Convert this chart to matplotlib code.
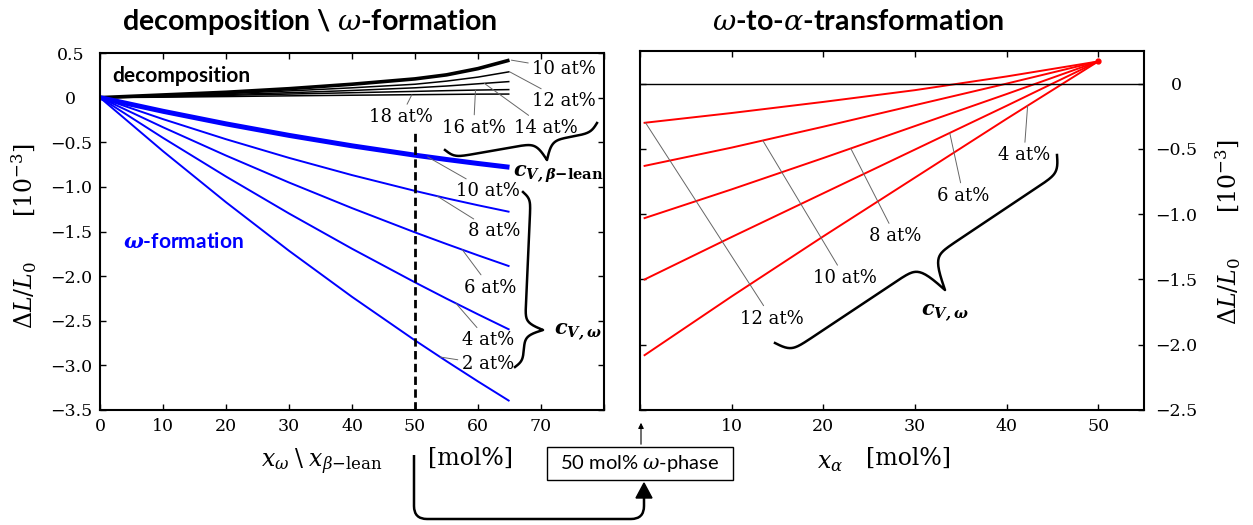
import numpy as np
import matplotlib
matplotlib.use('Agg')
import matplotlib.pyplot as plt
from matplotlib import font_manager
from matplotlib.lines import Line2D
from matplotlib.patches import Rectangle, FancyArrowPatch, PathPatch, Polygon
from matplotlib.path import Path

# decomposition (black) and omega formation (blue), x in mol%
x_left = [0, 10, 20, 30, 40, 50, 55, 60, 65]
dec_10 = [0, 0.03, 0.06, 0.10, 0.15, 0.21, 0.255, 0.325, 0.42]
dec_12 = [0, 0.02, 0.045, 0.075, 0.11, 0.15, 0.185, 0.23, 0.29]
dec_14 = [0, 0.015, 0.035, 0.055, 0.08, 0.11, 0.13, 0.155, 0.18]
dec_16 = [0, 0.01, 0.025, 0.04, 0.055, 0.07, 0.078, 0.085, 0.09]
dec_18 = [0, 0.005, 0.012, 0.02, 0.027, 0.033, 0.036, 0.039, 0.04]
lean_10 = [0, -0.153, -0.294, -0.423, -0.54, -0.645, -0.693, -0.738, -0.78]
om_8 = [0, -0.241, -0.466, -0.675, -0.868, -1.045, -1.128, -1.206, -1.28]
om_6 = [0, -0.332, -0.649, -0.951, -1.238, -1.51, -1.64, -1.767, -1.89]
om_4 = [0, -0.451, -0.884, -1.298, -1.693, -2.07, -2.252, -2.428, -2.60]
om_2 = [0, -0.60, -1.172, -1.716, -2.232, -2.72, -2.953, -3.18, -3.40]

# omega -> alpha transformation (red), x in mol%
x_right = [0.5, 10, 20, 30, 40, 50]
tr_12 = [-0.30, -0.225, -0.14, -0.05, 0.055, 0.17]
tr_10 = [-0.63, -0.49, -0.33, -0.165, 0.0, 0.17]
tr_8 = [-1.03, -0.81, -0.57, -0.325, -0.08, 0.17]
tr_6 = [-1.50, -1.175, -0.84, -0.505, -0.17, 0.17]
tr_4 = [-2.08, -1.63, -1.17, -0.72, -0.27, 0.17]
x_phase = 50

left_yticks = [0.5, 0, -0.5, -1.0, -1.5, -2.0, -2.5, -3.0, -3.5]
right_yticks = [0, -0.5, -1.0, -1.5, -2.0, -2.5]
left_xticks = [0, 10, 20, 30, 40, 50, 60, 70, 80]
right_xticks = [0, 10, 20, 30, 40, 50]

W, H = 1253, 525


def first_font(*names):
    for n in names:
        try:
            font_manager.findfont(font_manager.FontProperties(family=n), fallback_to_default=False)
            return n
        except ValueError:
            continue
    return 'DejaVu Sans'


narrow = first_font('Liberation Sans Narrow', 'Lato')
is_narrow = narrow == 'Liberation Sans Narrow'
plt.rcParams['font.family'] = 'DejaVu Serif'
plt.rcParams['mathtext.fontset'] = 'dejavuserif'


def fxy(px, py):
    return px / W, 1 - py / H


def tick_text(v):
    if v == 0:
        return '0'
    return ('%.1f' % v).replace('-', '\u2212')


fig = plt.figure(figsize=(W / 100, H / 100), dpi=100)
ax1 = fig.add_axes([100 / W, 1 - 410 / H, 504 / W, 357 / H])
ax2 = fig.add_axes([640 / W, 1 - 410 / H, 504 / W, 359 / H])

# ---- left panel
for ys, lw in [(dec_18, 1.1), (dec_16, 1.1), (dec_14, 1.1), (dec_12, 1.1), (dec_10, 2.6)]:
    ax1.plot(x_left, ys, color='black', lw=lw, solid_capstyle='butt')
for ys, lw in [(om_2, 1.4), (om_4, 1.4), (om_6, 1.4), (om_8, 1.4), (lean_10, 3.6)]:
    ax1.plot(x_left, ys, color='#0000ff', lw=lw, solid_capstyle='butt')
ax1.vlines(x_phase, -3.5, -0.40, colors='black', linestyles=(0, (3, 1.6)), lw=2)

ax1.set_xlim(0, 80)
ax1.set_ylim(-3.5, 0.5)
ax1.set_xticks(left_xticks, labels=[str(v) if v < 80 else '' for v in left_xticks])
ax1.set_yticks(left_yticks, labels=[tick_text(v) for v in left_yticks])
ax1.tick_params(direction='in', top=True, right=True, length=4, width=1, labelsize=12.5)
ax1.tick_params(axis='y', pad=21)
ax1.tick_params(axis='x', pad=6)
for lbl in ax1.get_yticklabels():
    lbl.set_horizontalalignment('center')

ax1.text(1.9, 0.245, 'decomposition', family='Lato', fontweight='bold', fontsize=15,
         ha='left', va='center', color='black')
ax1.text(3.6, -1.62, r'$\mathbfit{\omega}$-formation', family='Lato', fontweight='bold',
         fontsize=15, ha='left', va='center', color='#0000ff')

pointer_kw = dict(arrowstyle='-', color='0.4', lw=0.7, shrinkA=1, shrinkB=0)


def pointer(ax, text, xs, ys, x_at, xytext):
    y_at = np.interp(x_at, xs, ys)
    ax.annotate(text, xy=(x_at, y_at), xytext=xytext, ha='center', va='center',
                fontsize=13, arrowprops=pointer_kw)


pointer(ax1, '10 at%', x_left, dec_10, 65.3, (73.7, 0.32))
pointer(ax1, '12 at%', x_left, dec_12, 65.0, (73.7, -0.04))
pointer(ax1, '14 at%', x_left, dec_14, 61.0, (70.8, -0.34))
pointer(ax1, '16 at%', x_left, dec_16, 59.6, (59.3, -0.34))
pointer(ax1, '18 at%', x_left, dec_18, 49.5, (47.7, -0.22))
pointer(ax1, '10 at%', x_left, lean_10, 52.0, (61.6, -1.05))
pointer(ax1, '8 at%', x_left, om_8, 53.5, (62.5, -1.50))
pointer(ax1, '6 at%', x_left, om_6, 57.5, (62.0, -2.13))
pointer(ax1, '4 at%', x_left, om_4, 56.5, (61.6, -2.72))
pointer(ax1, '2 at%', x_left, om_2, 54.0, (61.6, -2.99))

ax1.text(65.5, -0.86, r'$\mathbfit{c}_{\mathbfit{V,\beta}\mathbf{-lean}}$', fontsize=15,
         ha='left', va='center')
ax1.text(72.0, -2.63, r'$\mathbfit{c}_{\mathbfit{V,\omega}}$', fontsize=15,
         ha='left', va='center')

# ---- right panel
for ys in [tr_12, tr_10, tr_8, tr_6, tr_4]:
    ax2.plot(x_right, ys, color='#ff0000', lw=1.4)
ax2.plot([x_right[-1]], [tr_4[-1]], 'o', color='#ff0000', ms=3.5)
ax2.axhline(0, color='black', lw=1)

ax2.set_xlim(0, 55)
ax2.set_ylim(-2.5, 0.25)
ax2.set_xticks(right_xticks, labels=[str(v) if v > 0 else '' for v in right_xticks])
ax2.set_yticks(right_yticks, labels=[tick_text(v) for v in right_yticks])
ax2.tick_params(direction='in', top=True, left=True, right=True, length=4, width=1,
                labelsize=12.5, labelleft=False, labelright=True)
ax2.tick_params(axis='y', pad=23)
ax2.tick_params(axis='x', pad=6)
for lbl in ax2.get_yticklabels():
    lbl.set_horizontalalignment('center')

pointer(ax2, '12 at%', x_right, tr_12, 0.6, (14.4, -1.80))
pointer(ax2, '10 at%', x_right, tr_10, 13.4, (22.4, -1.49))
pointer(ax2, '8 at%', x_right, tr_8, 23.0, (27.9, -1.17))
pointer(ax2, '6 at%', x_right, tr_6, 33.8, (35.3, -0.86))
pointer(ax2, '4 at%', x_right, tr_4, 42.3, (41.9, -0.55))
ax2.text(33.3, -1.76, r'$\mathbfit{c}_{\mathbfit{V,\omega}}$', fontsize=15,
         ha='center', va='center')

for ax in (ax1, ax2):
    for s in ax.spines.values():
        s.set_linewidth(1.5)


# curly braces, drawn in figure pixel space
def brace(p1, p2, tip, arm, k=0.3):
    p1, p2, tip = np.array(p1, float), np.array(p2, float), np.array(tip, float)
    L = np.linalg.norm(p2 - p1)
    u = (p2 - p1) / L
    n = np.array([-u[1], u[0]])
    if np.dot(tip - p1, n) < 0:
        n = -n
    m = np.dot(tip - p1, u)
    d = np.dot(tip - p1, n)
    sig = lambda t: 1 / (1 + np.exp(-t))
    t1 = np.linspace(0, m, 200)
    v1 = arm * (2 * sig(k * t1) - 1) + (d - arm) * 2 * sig(k * (t1 - m))
    t2 = np.linspace(m, L, 200)
    v2 = arm * (2 * sig(k * (L - t2)) - 1) + (d - arm) * 2 * sig(k * (m - t2))
    t = np.concatenate([t1, t2])
    v = np.concatenate([v1, v2])
    pts = p1[None, :] + t[:, None] * u[None, :] + v[:, None] * n[None, :]
    fig.add_artist(Line2D(pts[:, 0] / W, 1 - pts[:, 1] / H, color='black', lw=1.8,
                          transform=fig.transFigure))


brace((445, 150), (597, 123), (547, 160), 9, k=0.25)
brace((523, 192), (515, 367), (543, 330), 8)
brace((775, 343), (1057, 155), (945, 290), 16, k=0.22)

# ---- titles and axis labels
title_size = 22 if is_narrow else 20.5
fig.text(*fxy(310, 22), r'decomposition \ $\omega$-formation', family=narrow,
         fontweight='bold', fontsize=title_size, ha='center', va='center')
fig.text(*fxy(858, 22), r'$\omega$-to-$\alpha$-transformation', family=narrow,
         fontweight='bold', fontsize=title_size, ha='center', va='center')

ylab = r'$\Delta L/L_0\quad\quad[10^{-3}]$'
fig.text(*fxy(24, 236), ylab, rotation=90, fontsize=17, ha='center', va='center')
fig.text(*fxy(1228, 232), ylab, rotation=90, fontsize=17, ha='center', va='center')
fig.text(*fxy(322, 462), r'$x_\omega\;\backslash\;x_{\beta\mathrm{-lean}}$', fontsize=17,
         ha='center', va='center')
fig.text(*fxy(471, 458), '[mol%]', fontsize=17, ha='center', va='center')
fig.text(*fxy(830, 462), r'$x_\alpha$', fontsize=17, ha='center', va='center')
fig.text(*fxy(908, 458), '[mol%]', fontsize=17, ha='center', va='center')

# 50 mol% omega box with arrows
fig.add_artist(Rectangle(fxy(547, 480), 186 / W, 33 / H, transform=fig.transFigure,
                         fill=False, lw=1, color='black'))
fig.text(*fxy(640, 464), r'50 mol% $\omega$-phase', family=narrow,
         fontsize=16 if is_narrow else 14.5, ha='center', va='center')
fig.add_artist(FancyArrowPatch(fxy(641, 447), fxy(641, 420), arrowstyle='-|>',
                               mutation_scale=8, lw=0.8, color='black',
                               transform=fig.transFigure))
verts = [(414, 455), (414, 506), (414, 519), (427, 519), (631, 519), (644, 519),
         (644, 506), (644, 497)]
codes = [Path.MOVETO, Path.LINETO, Path.CURVE3, Path.CURVE3, Path.LINETO, Path.CURVE3,
         Path.CURVE3, Path.LINETO]
fig.add_artist(PathPatch(Path([fxy(*p) for p in verts], codes), fill=False, lw=1.8,
                         color='black', transform=fig.transFigure))
fig.add_artist(Polygon([fxy(636, 498), fxy(652, 498), fxy(644, 483)], closed=True,
                       color='black', transform=fig.transFigure))

fig.savefig('out.png', dpi=100)
